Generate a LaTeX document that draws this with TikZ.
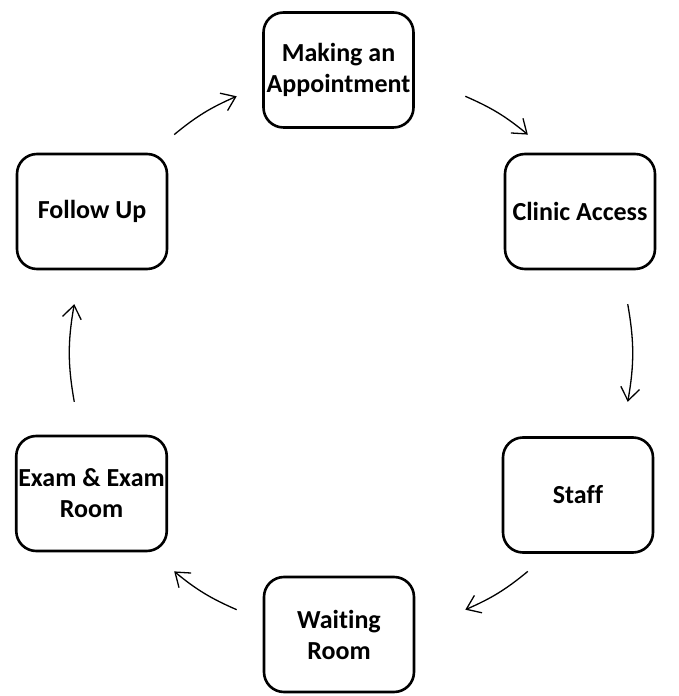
\documentclass[tikz,border=0pt]{standalone}
\usepackage{fontspec}
\setmainfont{Carlito}[Ligatures={NoCommon}]
\usetikzlibrary{arrows.meta,calc}

\tikzstyle{stage}=[rectangle,draw,rounded corners=20pt,line width=2.6pt,minimum width=150pt,minimum height=115pt,inner sep=2pt,align=center,font=\fontsize{26}{31}\selectfont\bfseries]
\tikzstyle{cycle} = [draw,line width=1.3pt]

\begin{document}
\begin{tikzpicture}[x=1pt, y=1pt, ->, >={Straight Barb[length=13pt,width=19pt]}]
		\useasboundingbox (0,0) rectangle (678,696);
		\coordinate (c) at (351,343);
		\node [stage] (making)  at (338.5,626) {Making an\\Appointment};
		\node [stage] (clinic)  at (580,484.5) {Clinic Access};
		\node [stage] (staff)   at (578,201)   {Staff};
		\node [stage] (waiting) at (339,61.5)  {Waiting\\Room};
		\node [stage] (exam)    at (91.5,202.5){Exam \& Exam\\Room};
		\node [stage] (follow)  at (92,484.5)  {Follow Up};

		% ends of the arrows, on a circle round the middle
		\coordinate (follow-out)  at ($(c)+(129:281)$);
		\coordinate (making-in)   at ($(c)+(114:281)$);
		\coordinate (making-out)  at ($(c)+(66:281)$);
		\coordinate (clinic-in)   at ($(c)+(51:281)$);
		\coordinate (clinic-out)  at ($(c)+(10:281)$);
		\coordinate (staff-in)    at ($(c)+(-10:281)$);
		\coordinate (staff-out)   at ($(c)+(-51:281)$);
		\coordinate (waiting-in)  at ($(c)+(-66:281)$);
		\coordinate (waiting-out) at ($(c)+(-114:281)$);
		\coordinate (exam-in)     at ($(c)+(-129:281)$);
		\coordinate (exam-out)    at ($(c)+(190:281)$);
		\coordinate (follow-in)   at ($(c)+(170:281)$);

		\draw [cycle] (follow-out)  to [bend left=8]  (making-in);
		\draw [cycle] (making-out)  to [bend left=8]  (clinic-in);
		\draw [cycle] (clinic-out)  to [bend left=10] (staff-in);
		\draw [cycle] (staff-out)   to [bend left=8]  (waiting-in);
		\draw [cycle] (waiting-out) to [bend left=8]  (exam-in);
		\draw [cycle] (exam-out)    to [bend left=10] (follow-in);
	\end{tikzpicture}
\end{document}
